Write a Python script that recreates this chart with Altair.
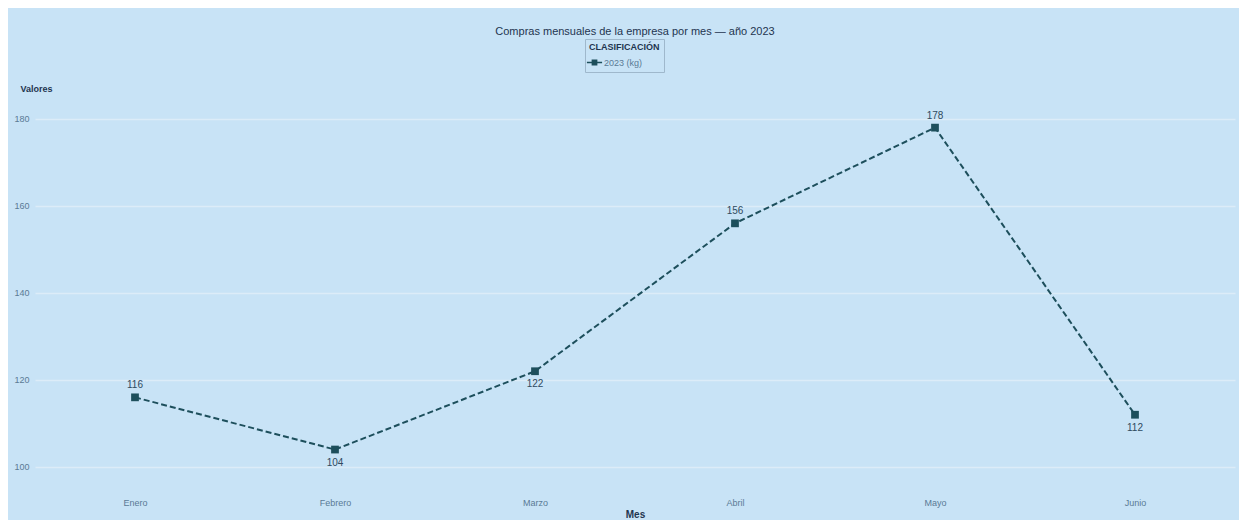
import altair as alt
import pandas as pd

months = ["Enero", "Febrero", "Marzo", "Abril", "Mayo", "Junio"]
values = [116, 104, 122, 156, 178, 112]
label_pos = ["arriba", "abajo", "abajo", "arriba", "arriba", "abajo"]
series_name = "2023 (kg)"
y_ticks = [100, 120, 140, 160, 180]

df = pd.DataFrame({"Mes": months, "Valor": values, "pos": label_pos,
                   "Serie": [series_name] * len(months)})

line_color = "#1d4f5c"

x = alt.X("Mes:N", sort=months, title="Mes",
          scale=alt.Scale(type="point", padding=0.5),
          axis=alt.Axis(labelAngle=0, labelFontSize=9, labelColor="#5a7a95",
                        titleFontSize=10, titleFontWeight="bold", titleColor="#1f3550",
                        labelPadding=8, titlePadding=2, ticks=False, domain=False,
                        grid=False))
y = alt.Y("Valor:Q", title="Valores",
          scale=alt.Scale(domain=[94.7, 185.5], nice=False, zero=False),
          axis=alt.Axis(values=y_ticks, labelFontSize=9, labelColor="#5a7a95",
                        titleAngle=0, titleAlign="left", titleX=-15, titleY=-7,
                        titleBaseline="middle", titleFontSize=9, titleFontWeight="bold",
                        titleColor="#1f3550", ticks=False, domain=False,
                        gridColor="#dcecf8", gridWidth=1.5, labelPadding=6))
legend_symbol = ("M-1.6,0L-0.45,0M0.45,0L1.6,0"
                 "M-0.45,-0.45L0.45,-0.45L0.45,0.45L-0.45,0.45Z")
color = alt.Color("Serie:N", scale=alt.Scale(range=[line_color]),
                  legend=alt.Legend(title="CLASIFICACIÓN", orient="none",
                                    legendX=550, legendY=-56,
                                    titleFontSize=9, titleFontWeight="bold",
                                    titleColor="#1f3550", labelFontSize=9,
                                    labelColor="#5a7a95", symbolType=legend_symbol,
                                    symbolSize=90, symbolStrokeWidth=1.5,
                                    strokeColor="#9fb8cc",
                                    padding=4))

base = alt.Chart(df)
line = base.mark_line(strokeDash=[6, 3], strokeWidth=2).encode(x=x, y=y, color=color)
pts = base.mark_point(shape="square", filled=True, size=60, opacity=1).encode(
    x=x, y=y, color=alt.Color("Serie:N", scale=alt.Scale(range=[line_color]), legend=None))
txt_up = base.transform_filter(alt.datum.pos == "arriba").mark_text(
    dy=-12, fontSize=10, color="#2f4a60").encode(x=x, y=y, text="Valor:Q")
txt_dn = base.transform_filter(alt.datum.pos == "abajo").mark_text(
    dy=13, fontSize=10, color="#2f4a60").encode(x=x, y=y, text="Valor:Q")

chart = alt.layer(line, pts, txt_up, txt_dn).properties(
    width=1200, height=395,
    title=alt.TitleParams("Compras mensuales de la empresa por mes — año 2023",
                          fontSize=11, fontWeight="normal", color="#1f3550",
                          anchor="middle", offset=2),
    background="#c8e3f6",
    padding={"left": 27, "top": 87, "right": 4, "bottom": 30},
    autosize=alt.AutoSizeParams(type="none"),
).configure_view(stroke=None)

chart.save("out.html", embed_options={"renderer": "svg", "actions": False})
